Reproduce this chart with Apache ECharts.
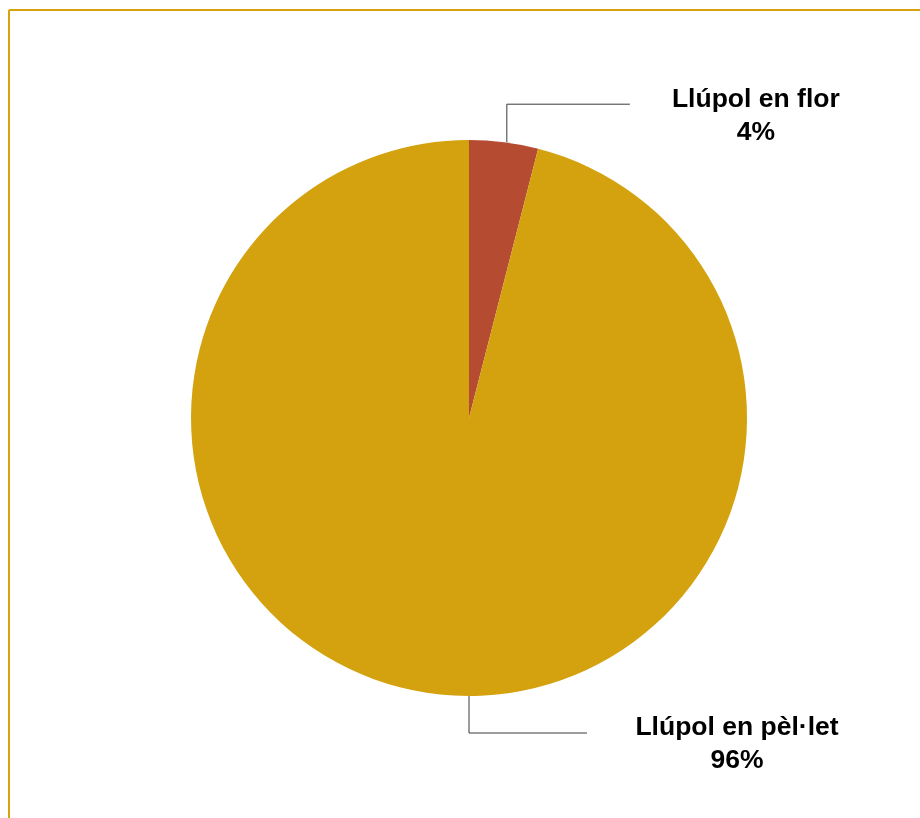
<!DOCTYPE html>
<html>
<head>
<meta charset="utf-8">
<script src="https://cdn.jsdelivr.net/npm/echarts@6/dist/echarts.min.js"></script>
<style>
html,body{margin:0;padding:0;background:#fff;}
#chart{width:920px;height:818px;}
</style>
</head>
<body>
<div id="chart"></div>
<script>
const categories = ['Llúpol en flor', 'Llúpol en pèl·let'];
const values = [4, 96];
const colors = ['#B54B30', '#D3A20E'];

const W = 920, H = 818;
const CX = 469, CY = 418, R = 278;

const chart = echarts.init(document.getElementById('chart'), null, {renderer: 'canvas'});

const option = {
  backgroundColor: '#fff',
  animation: false,
  graphic: [
    {type: 'line', shape: {x1: 9, y1: 10, x2: W, y2: 10}, style: {stroke: '#D8A20F', lineWidth: 2}},
    {type: 'line', shape: {x1: 9, y1: 10, x2: 9, y2: H}, style: {stroke: '#D8A20F', lineWidth: 2}}
  ],
  series: [{
    type: 'pie',
    center: [CX, CY],
    radius: R,
    startAngle: 90,
    clockwise: true,
    data: categories.map((c, i) => ({name: c, value: values[i], itemStyle: {color: colors[i]}})),
    itemStyle: {borderWidth: 0},
    label: {
      show: true,
      formatter: p => p.name + '\n' + Math.round(p.percent) + '%',
      fontFamily: 'Liberation Sans, Arial, sans-serif',
      fontWeight: 'bold',
      fontSize: 26.5,
      lineHeight: 33,
      color: '#000',
      align: 'center'
    },
    labelLine: {
      show: true,
      length: 30,
      length2: 100,
      lineStyle: {color: '#3a3a3a', width: 1}
    },
    labelLayout: function (params) {
      const pts = params.labelLinePoints;
      if (params.dataIndex === 0) {
        const p0 = pts[0];
        const p1 = [p0[0] + 3, p0[1] - 38];
        const p0b = [p1[0], p0[1]];
        const p2 = [p1[0] + 123, p1[1]];
        return {
          labelLinePoints: [p0b, p1, p2],
          x: p2[0] + 126, y: p2[1] + 12,
          align: 'center', verticalAlign: 'middle'
        };
      } else {
        const p0 = [CX, CY + R];
        const p1 = [p0[0], p0[1] + 37];
        const p2 = [p1[0] + 118, p1[1]];
        return {
          labelLinePoints: [p0, p1, p2],
          x: p2[0] + 150, y: p2[1] + 11,
          align: 'center', verticalAlign: 'middle'
        };
      }
    }
  }]
};
chart.setOption(option);
</script>
</body>
</html>
